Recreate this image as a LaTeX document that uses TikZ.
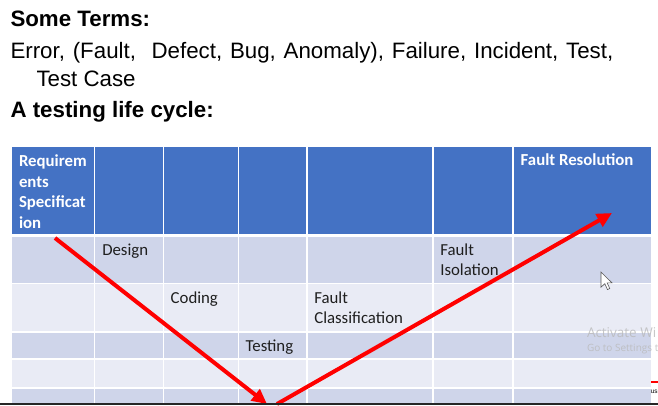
\documentclass[tikz,border=0pt]{standalone}
\usepackage{fontspec}
\setmainfont{Liberation Sans}
\newfontfamily\calibri{Carlito}
\newfontfamily\uifont{Open Sans}
\usetikzlibrary{arrows.meta}
\definecolor{hdrblue}{HTML}{4472C4}
\definecolor{banddark}{HTML}{CFD5EA}
\definecolor{bandlight}{HTML}{E9EBF5}
\definecolor{arrowred}{HTML}{FF0000}
\begin{document}
\begin{tikzpicture}[x=1pt,y=-1pt,
  txt/.style={anchor=base west,inner sep=0pt,outer sep=0pt},
  title/.style={txt,font=\fontsize{22.3}{26}\selectfont\bfseries},
  body/.style={txt,font=\fontsize{22.3}{26}\selectfont},
  hdr/.style={txt,text=white,font=\calibri\fontsize{16.8}{20}\selectfont\bfseries},
  cell/.style={txt,text=black!88,font=\calibri\fontsize{16.8}{20}\selectfont},
  flow/.style={draw=arrowred,line width=4pt,-{Triangle[length=15pt,width=14pt]}},
  gridline/.style={draw=white,line width=1.6pt},
  watermark/.style={txt,text=gray!55,opacity=0.8}]

\useasboundingbox (0,0) rectangle (658,405);
\begin{scope}
\clip (0,0) rectangle (658,405);
\fill[white] (0,0) rectangle (658,405);

% heading text
\node[title] (terms) at (10.5,26) {Some Terms:};
\node[body] (list1) at (10.5,58) {\spaceskip=7.8pt Error, (Fault,\ \ Defect, Bug, Anomaly), Failure, Incident, Test,};
\node[body] (list2) at (36.5,86) {Test Case};
\node[title] (cycle) at (10.5,117.5) {A testing life cycle:};

% table bands
\fill[hdrblue]   (11.7,146.7) rectangle (650.7,235.5);
\fill[banddark]  (11.7,235.5) rectangle (650.7,283.5);
\fill[bandlight] (11.7,283.5) rectangle (650.7,331.7);
\fill[banddark]  (11.7,331.7) rectangle (650.7,359);
\fill[bandlight] (11.7,359)   rectangle (650.7,387.7);
\fill[banddark]  (11.7,387.7) rectangle (650.7,405);

% cell borders
\foreach \x in {94.3,163.3,238.3,306.7,433,513}
  \draw[gridline] (\x,146.7) -- (\x,405);
\draw[gridline,line width=2.4pt] (11.7,235.5) -- (650.7,235.5);
\foreach \y in {283.5,331.7,359,387.7}
  \draw[gridline] (11.7,\y) -- (650.7,\y);

% header cells
\node[hdr] (req1) at (19,166.5) {Requirem};
\node[hdr] (req2) at (19,187.2) {ents};
\node[hdr] (req3) at (19,207.9) {Specificat};
\node[hdr] (req4) at (19,228.6) {ion};
\node[hdr] (resol) at (520.7,165) {Fault Resolution};

% body cells
\node[cell] (design) at (102.3,255) {Design};
\node[cell] (coding) at (170.7,303.3) {Coding};
\node[cell] (testing) at (245.7,351.7) {Testing};
\node[cell] (class1) at (314.3,303.3) {Fault};
\node[cell] (class2) at (314.3,323.5) {Classification};
\node[cell] (iso1) at (440.3,255) {Fault};
\node[cell] (iso2) at (440.3,275.2) {Isolation};

% the V of the life cycle
\coordinate (downstart) at (55,238);
\coordinate (downend) at (267,404);
\coordinate (upstart) at (277,404);
\coordinate (upend) at (612,213);
\draw[flow] (downstart) -- (downend);
\draw[flow] (upstart) -- (upend);

% pointer
\begin{scope}[shift={(601,272)},scale=0.95]
\filldraw[fill=white,draw=black!65,line width=0.6pt,line join=miter]
  (0,0) -- (0,16) -- (4,12.3) -- (6.8,18.5) -- (9.2,17.4) -- (6.5,11.4) -- (11.5,11.4) -- cycle;
\end{scope}

% desktop overlay, running off the right edge
\node[watermark,font=\uifont\fontsize{13.5}{16}\selectfont] (wm1) at (587,337) {Activate Wi};
\node[watermark,font=\uifont\fontsize{10}{12}\selectfont] (wm2) at (587,351) {Go to Settings t};
\draw[arrowred,line width=2pt] (651,382) -- (658,382);
\node[txt,font=\fontsize{6.5}{8}\selectfont] (tag) at (650.8,393.5) {us};
\fill[black!85] (0,402.6) rectangle (658,405);
\end{scope}
\end{tikzpicture}
\end{document}
